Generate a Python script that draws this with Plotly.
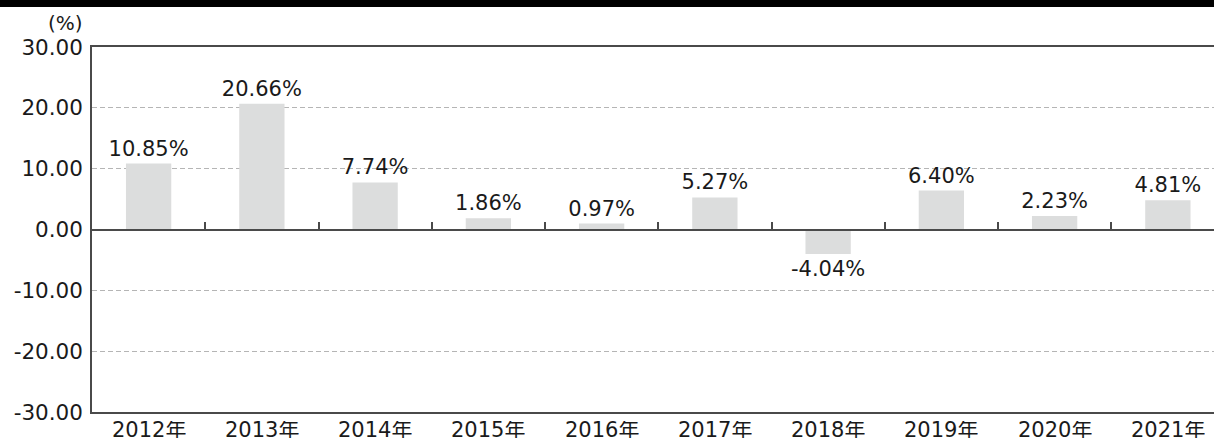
import plotly.graph_objects as go

years = ["2012年", "2013年", "2014年", "2015年", "2016年",
         "2017年", "2018年", "2019年", "2020年", "2021年"]
growth = [10.85, 20.66, 7.74, 1.86, 0.97, 5.27, -4.04, 6.40, 2.23, 4.81]
labels = [f"{v:.2f}%" for v in growth]
yticks = [30, 20, 10, 0, -10, -20, -30]
ytick_text = [f"{v:.2f}" for v in yticks]

FONT = "DejaVu Sans, Noto Sans CJK JP, sans-serif"
AXIS = "#4a4a4a"
TXT = "#1a1a1a"

fig = go.Figure()
fig.add_trace(go.Bar(
    x=years, y=growth, width=0.4,
    marker=dict(color="#dcdddd", line=dict(width=0)),
    text=labels, textposition="outside", cliponaxis=False,
    constraintext="none",
    textfont=dict(family=FONT, size=21, color=TXT),
    showlegend=False,
))
# invisible trace carrying the zero-line axis
fig.add_trace(go.Scatter(x=years, y=[None] * len(years), xaxis="x2",
                         showlegend=False, hoverinfo="skip"))

xr = [-0.5, -0.5 + 1122 / 113.25]
annotations = [dict(text="(%)", xref="paper", yref="paper",
                    x=-27 / 1122, y=1 + 24 / 365, xanchor="center",
                    yanchor="middle", showarrow=False,
                    font=dict(family=FONT, size=20, color=TXT))]
# category labels under the bottom axis
for yr in years:
    annotations.append(dict(text=yr, x=yr, xref="x", y=0, yref="paper",
                            yanchor="top", xanchor="center", yshift=-8,
                            height=18, borderpad=0, valign="middle",
                            showarrow=False,
                            font=dict(family=FONT, size=21, color=TXT)))

fig.update_layout(
    width=1214, height=438,
    margin=dict(l=92, r=0, t=47, b=26),
    paper_bgcolor="white", plot_bgcolor="white",
    font=dict(family=FONT, size=21, color=TXT),
    xaxis=dict(type="category", range=xr, showgrid=False, automargin=False,
               showline=True, linecolor=AXIS, linewidth=1.5, mirror=True,
               ticks="", showticklabels=False),
    xaxis2=dict(type="category", range=xr, overlaying="x", anchor="free",
                position=0.5, side="bottom", showgrid=False, automargin=False,
                showline=True, linecolor=AXIS, linewidth=1.5,
                ticks="inside", ticklen=7, tickwidth=1.5, tickcolor=AXIS,
                tickson="boundaries", showticklabels=False),
    yaxis=dict(range=[-30, 30], tickvals=yticks, ticktext=ytick_text,
               showgrid=True, gridcolor="#b5b5b5", gridwidth=1,
               griddash="5px,3px", zeroline=False, automargin=False,
               showline=True, linecolor=AXIS, linewidth=1.5, mirror=False,
               ticks="", ticklabelstandoff=3,
               tickfont=dict(family=FONT, size=21.5, color=TXT)),
    shapes=[dict(type="rect", xref="paper", yref="paper",
                 x0=-0.1, x1=1.0, y0=1 + 40 / 365, y1=1 + 60 / 365,
                 fillcolor="black", line=dict(width=0), layer="above")],
    annotations=annotations,
)

fig.write_html("out.html",
               config={"displayModeBar": False},
               post_script="document.body.style.margin='0px';"
                           "document.body.style.overflow='hidden';")
